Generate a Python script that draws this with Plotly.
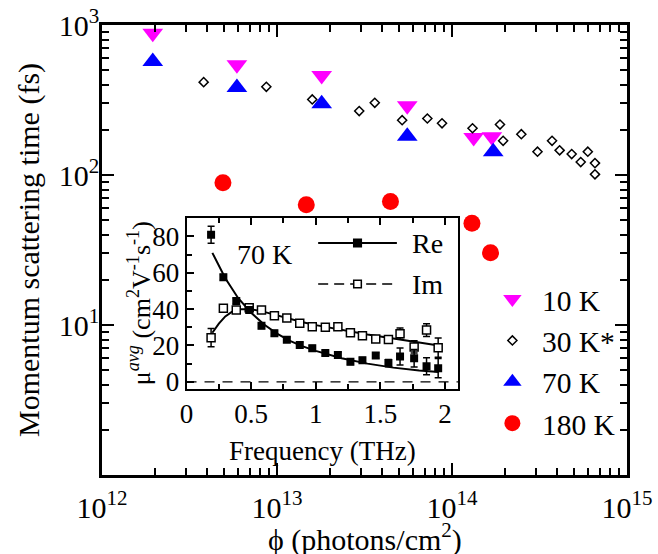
import plotly.graph_objects as go

# ---------------- main panel data ----------------
t10_x = [1.95e12, 5.9e12, 1.8e13, 5.55e13, 1.33e14, 1.69e14]
t10_y = [880, 543, 460, 289, 178, 180]

t30_x = [3.81e12, 8.69e12, 1.59e13, 2.95e13, 3.62e13, 5.19e13, 7.23e13, 8.77e13,
         1.31e14, 1.88e14, 1.96e14, 2.49e14, 3.08e14, 3.73e14, 4.12e14, 4.83e14,
         5.44e14, 5.97e14, 6.56e14, 6.56e14]
t30_y = [416, 387, 319, 267, 303, 232, 238, 221, 205, 217, 169, 187, 143, 169,
         146, 138, 122, 143, 120, 101]

t70_x = [1.95e12, 5.9e12, 1.8e13, 5.55e13, 1.72e14]
t70_y = [571, 383, 298, 181, 143]

t180_x = [4.91e12, 1.47e13, 4.45e13, 1.30e14, 1.66e14]
t180_y = [88.7, 63.3, 66.6, 47.7, 30.3]

main_xticks = [1e12, 1e13, 1e14, 1e15]
main_xlabels = ["10<sup>12</sup>", "10<sup>13</sup>", "10<sup>14</sup>", "10<sup>15</sup>"]
main_yticks = [10, 100, 1000]
main_ylabels = ["10<sup>1</sup>", "10<sup>2</sup>", "10<sup>3</sup>"]

# ---------------- inset data ----------------
freq = [0.19, 0.285, 0.385, 0.485, 0.58, 0.68, 0.776, 0.876, 0.973, 1.074,
        1.171, 1.268, 1.361, 1.464, 1.562, 1.652, 1.761, 1.857, 1.947]
mu_re = [81.0, 57.5, 44.5, 39.5, 30.9, 26.7, 23.2, 20.3, 18.5, 15.8,
         14.7, 11.0, 11.9, 14.5, 10.3, 13.9, 13.0, 8.6, 7.5]
mu_re_err = [4.7, 1.5, 1.5, 1.5, 1.5, 1.5, 1.5, 1.5, 1.5, 1.5,
             1.5, 1.5, 1.5, 1.5, 2.0, 4.7, 4.8, 4.7, 5.3]
mu_im = [24.3, 40.5, 39.5, 40.7, 39.5, 36.3, 35.1, 32.2, 30.3, 30.0,
         30.3, 27.0, 25.4, 23.6, 23.3, 26.5, 19.2, 28.5, 18.8]
mu_im_err = [5.0, 1.5, 1.5, 1.5, 1.5, 1.5, 1.5, 1.5, 1.5, 1.5,
             1.5, 1.5, 1.5, 1.5, 1.5, 3.1, 3.4, 3.5, 5.3]

fit_re_f = [0.2, 0.3, 0.4, 0.5, 0.6, 0.7, 0.8, 0.9, 1.0, 1.2, 1.4, 1.6, 1.8, 1.95]
fit_re_v = [71, 57, 46, 38, 31.5, 26.5, 22.5, 19.5, 17, 13, 10, 7.8, 6.2, 5.4]
fit_im_f = [0.2, 0.25, 0.3, 0.35, 0.4, 0.5, 0.6, 0.7, 0.8, 0.9, 1.0, 1.2, 1.4, 1.6, 1.8, 1.95]
fit_im_v = [27, 32, 36, 38.5, 40, 40, 38.5, 36.5, 34.5, 32.8, 31.2, 28.5, 26, 23.8, 21.5, 20]

inset_legend_names = ["Re", "Im"]

FONT = "Liberation Serif"

# minor tick positions for the log axes (2..9 within each decade)
x_minor = [m * 10.0 ** e for e in range(12, 15) for m in range(2, 10)]
y_minor = [m * 10.0 ** e for e in range(0, 3) for m in range(2, 10)]

fig = go.Figure()

fig.add_trace(go.Scatter(x=t10_x, y=t10_y, mode="markers", name="10 K",
                         marker=dict(symbol="triangle-down", size=18, color="#FF00FF")))
fig.add_trace(go.Scatter(x=t30_x, y=t30_y, mode="markers", name="30 K*",
                         marker=dict(symbol="diamond-open", size=7, color="black",
                                     line=dict(width=1.5, color="black"))))
fig.add_trace(go.Scatter(x=t70_x, y=t70_y, mode="markers", name="70 K",
                         marker=dict(symbol="triangle-up", size=18, color="#0000FF")))
fig.add_trace(go.Scatter(x=t180_x, y=t180_y, mode="markers", name="180 K",
                         marker=dict(symbol="circle", size=17, color="#FF0000")))

fig.add_trace(go.Scatter(x=fit_re_f, y=fit_re_v, mode="lines", xaxis="x2", yaxis="y2",
                         line=dict(color="black", width=2), showlegend=False))
fig.add_trace(go.Scatter(x=fit_im_f, y=fit_im_v, mode="lines", xaxis="x2", yaxis="y2",
                         line=dict(color="black", width=2), showlegend=False))
fig.add_trace(go.Scatter(x=freq, y=mu_im, mode="markers", xaxis="x2", yaxis="y2",
                         error_y=dict(type="data", array=mu_im_err, color="black",
                                      thickness=1.5, width=3.5),
                         marker=dict(symbol="square", size=8, color="white",
                                     line=dict(color="black", width=1.5)),
                         showlegend=False))
fig.add_trace(go.Scatter(x=freq, y=mu_re, mode="markers", xaxis="x2", yaxis="y2",
                         error_y=dict(type="data", array=mu_re_err, color="black",
                                      thickness=1.5, width=3.5),
                         marker=dict(symbol="square", size=8, color="black"),
                         showlegend=False))

fig.add_shape(type="line", xref="x2 domain", yref="y2", x0=0, x1=1, y0=0, y1=0,
              line=dict(color="black", width=1.2, dash="10px,8px"))

key_x0, key_x1, key_xm = 0.485, 0.775, 0.63
key_y = [0.855, 0.615]
key_dash = ["solid", "10px,6px"]
key_fill = ["black", "white"]
for name, ky, dash, fill in zip(inset_legend_names, key_y, key_dash, key_fill):
    fig.add_shape(type="line", xref="x2 domain", yref="y2 domain",
                  x0=key_x0, x1=key_x1, y0=ky, y1=ky,
                  line=dict(color="black", width=2 if dash == "solid" else 1.6, dash=dash))
    fig.add_shape(type="rect", xref="x2 domain", yref="y2 domain",
                  x0=key_xm - 0.014, x1=key_xm + 0.014, y0=ky - 0.022, y1=ky + 0.022,
                  fillcolor=fill, line=dict(color="black", width=1.5))
    fig.add_annotation(text=name, xref="x2 domain", yref="y2 domain", x=0.825, y=ky,
                       xanchor="left", yanchor="middle", showarrow=False,
                       font=dict(family=FONT, size=28, color="black"))

fig.add_annotation(text="70 K", xref="x2", yref="y2", x=0.6, y=70, showarrow=False,
                   font=dict(family=FONT, size=28, color="black"))

# axis titles placed as annotations (fixed positions, no margin push)
fig.add_annotation(text="ϕ (photons/cm<sup>2</sup>)", xref="paper", yref="paper",
                   x=0.5, y=-0.138, xanchor="center", yanchor="middle", showarrow=False,
                   font=dict(family=FONT, size=30, color="black"))
fig.add_annotation(text="Momentum scattering time (fs)", xref="paper", yref="paper",
                   x=-0.139, y=0.5, xanchor="center", yanchor="middle", textangle=-90,
                   showarrow=False, font=dict(family=FONT, size=30, color="black"))
fig.add_annotation(text="Frequency (THz)", xref="x2 domain", yref="y2 domain",
                   x=0.5, y=-0.363, xanchor="center", yanchor="middle", showarrow=False,
                   font=dict(family=FONT, size=27, color="black"))
fig.add_annotation(text="μ<sup><i>avg</i></sup> (cm<sup>2</sup>V<sup>-1</sup>s<sup>-1</sup>)",
                   xref="x2 domain", yref="y2 domain", x=-0.173, y=0.5,
                   xanchor="center", yanchor="middle", textangle=-90, showarrow=False,
                   font=dict(family=FONT, size=26, color="black"))

axis_common = dict(showgrid=False, zeroline=False, showline=True, linecolor="black",
                   ticks="inside", tickcolor="black", automargin=False)

fig.update_layout(
    width=658, height=554,
    margin=dict(l=102, r=31, t=25, b=79),
    paper_bgcolor="white", plot_bgcolor="white",
    font=dict(family=FONT, size=30, color="black"),
    showlegend=True,
    xaxis=dict(type="log", range=[12, 15], tickmode="array", tickvals=main_xticks,
               ticktext=main_xlabels, ticklabelstandoff=4,
               ticklen=12, tickwidth=2, linewidth=2.5, mirror="ticks",
               minor=dict(tickmode="array", tickvals=x_minor, ticks="inside", ticklen=7,
                          tickwidth=1.5, tickcolor="black", showgrid=False),
               tickfont=dict(family=FONT, size=30), **axis_common),
    yaxis=dict(type="log", range=[0, 3], tickmode="array", tickvals=main_yticks,
               ticktext=main_ylabels, ticklabelstandoff=-6,
               ticklen=12, tickwidth=2, linewidth=2.5, mirror="ticks",
               minor=dict(tickmode="array", tickvals=y_minor, ticks="inside", ticklen=7,
                          tickwidth=1.5, tickcolor="black", showgrid=False),
               tickfont=dict(family=FONT, size=30), **axis_common),
    xaxis2=dict(domain=[0.161, 0.678], anchor="y2", range=[0, 2.1],
                tickvals=[0, 0.5, 1, 1.5, 2], ticktext=["0", "0.5", "1", "1.5", "2"],
                ticklen=7, tickwidth=1.5, linewidth=2, mirror="ticks",
                minor=dict(ticks="inside", dtick=0.25, ticklen=5, tickwidth=1.5, tickcolor="black"),
                tickfont=dict(family=FONT, size=27), **axis_common),
    yaxis2=dict(domain=[0.191, 0.5704], anchor="x2", range=[-4, 90],
                tickvals=[0, 20, 40, 60, 80], ticklen=7, tickwidth=1.5, linewidth=2, mirror=True,
                minor=dict(ticks="inside", dtick=10, ticklen=5, tickwidth=1.5, tickcolor="black"),
                tickfont=dict(family=FONT, size=27), **axis_common),
    legend=dict(x=0.7255, y=0.448, xanchor="left", yanchor="top", bgcolor="rgba(0,0,0,0)",
                font=dict(family=FONT, size=29.5), itemsizing="trace", itemwidth=49,
                tracegroupgap=0),
)

fig.write_html("out.html")
